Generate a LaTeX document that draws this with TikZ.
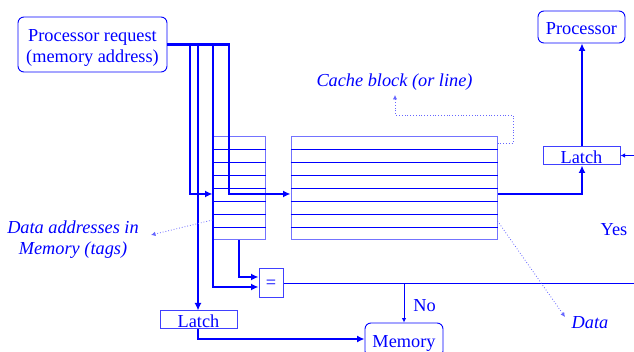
\documentclass[tikz,border=0pt]{standalone}
\usepackage{fontspec}
\setmainfont{Liberation Serif}
\newfontfamily\tnr{Liberation Serif}
\usetikzlibrary{arrows.meta}
\definecolor{pblue}{RGB}{0,0,255}
\begin{document}
\begin{tikzpicture}[x=1pt,y=-1pt,
  every node/.style={text=pblue,font=\tnr\fontsize{18.3}{21}\selectfont},
  rbox/.style={draw=pblue,line width=0.9pt,rounded corners=6pt,inner sep=0pt},
  sbox/.style={draw=pblue!75,line width=1pt,inner sep=0pt},
  arr/.style={draw=pblue!55,line width=1pt,inner sep=0pt},
  txt/.style={inner sep=0pt,align=center},
  bus/.style={draw=pblue,line width=2.2pt},
  fine/.style={draw=pblue,line width=1pt},
  dots/.style={draw=pblue!60,line width=0.8pt,dotted},
  bigtip/.style={-{Latex[length=7.5pt,width=7pt]}},
  smalltip/.style={-{Latex[length=4.5pt,width=4.5pt]}},
  lbl/.style={font=\tnr\itshape\fontsize{18.3}{21}\selectfont,align=center,inner sep=0pt}
]
\useasboundingbox (0,0) rectangle (634,352);

% boxes
\node[rbox,minimum width=149pt,minimum height=55pt] (preq) at (92.5,44.5) {};
\node[txt] (preqt) at (92.5,48) {Processor request\\(memory address)};
\node[rbox,minimum width=87pt,minimum height=32pt] (proc) at (581.5,27) {};
\node[txt] (proct) at (581.5,29) {Processor};
\node[sbox,minimum width=77pt,minimum height=18pt] (latchR) at (581.5,156) {};
\node[txt] (latchRt) at (581.5,157) {Latch};
\node[sbox,minimum width=77pt,minimum height=18pt] (latchL) at (198.5,320) {};
\node[txt] (latchLt) at (198.5,321.5) {Latch};
\node[rbox,minimum width=78pt,minimum height=34pt] (mem) at (404,340) {};
\node[txt] (memt) at (404,343) {Memory};
\node[sbox,minimum width=24pt,minimum height=29pt] (eq) at (271,283.5) {};
\node[txt] (eqt) at (271,284) {=};

% arrays
\node[arr,minimum width=52pt,minimum height=103pt] (tag) at (239,188.5) {};
\node[arr,minimum width=206pt,minimum height=103pt] (data) at (394,188.5) {};
\foreach \yy in {149.9,162.8,175.6,188.5,201.4,214.3,227.1}{
  \draw[fine] (tag.west |- 0,\yy) -- (tag.east |- 0,\yy);
  \draw[fine] (data.west |- 0,\yy) -- (data.east |- 0,\yy);
}

% bus from processor request
\coordinate (b1) at (190,44.5);
\coordinate (b2) at (198,44.5);
\coordinate (b3) at (213,44.5);
\coordinate (b4) at (229,44.5);
\draw[bus,bigtip] (preq.east) -- (b4) -- (229,194) -- (data.west |- 0,194);
\draw[bus,bigtip] (b1) -- (190,194) -- (tag.west |- 0,194);
\draw[bus,bigtip] (b2) -- (latchL.north -| b2);
\draw[bus,bigtip] (b3) -- (213,287) -- (eq.west |- 0,287);
\draw[bus,bigtip] (tag.south) -- (239,277) -- (eq.west |- 0,277);
\draw[bus,bigtip] (latchL.south -| b2) -- (198,339) -- (mem.west |- 0,339);
\draw[bus,bigtip] (data.east |- 0,194) -- (582,194) -- (latchR.south -| 582,0);
\draw[bus,bigtip] (latchR.north -| 582,0) -- (proc.south -| 582,0);

% comparator output
\coordinate (rend) at (634,283.5);
\draw[fine] (eq.east) -- (rend);
\draw[fine,smalltip] (404,283.5) -- (mem.north);
\coordinate (rin) at (634,155.5);
\draw[fine,smalltip] (rin) -- (latchR.east |- rin);

% labels
\node[lbl] (cbl) at (394.5,82.5) {Cache block (or line)};
\node[lbl] (dal) at (73,240) {Data addresses in\\Memory (tags)};
\node[lbl] (dtl) at (590,322.5) {Data};
\node[txt] (yes) at (614,230) {Yes};
\node[txt] (no) at (424.5,306) {No};

% dotted pointers
\draw[dots,smalltip] (data.east |- 0,143) -- (513,143) -- (513,115) -- (395,115) -- (395,95);
\draw[dots,smalltip] (tag.west |- 0,220) -- (151,235);
\draw[dots,smalltip] (data.east |- 0,221) -- (565,317);
\end{tikzpicture}
\end{document}
